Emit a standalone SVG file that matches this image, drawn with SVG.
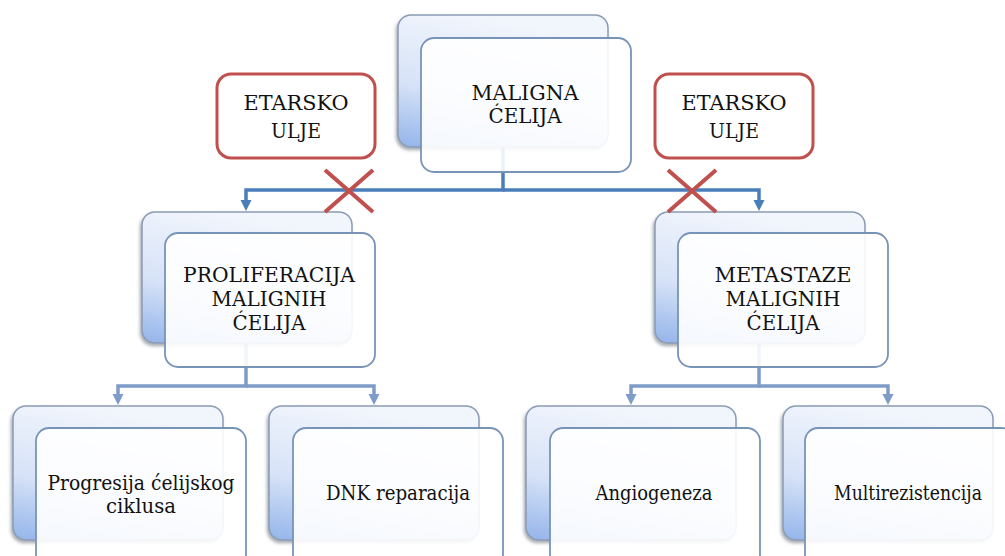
<svg xmlns="http://www.w3.org/2000/svg" width="1005" height="556" viewBox="0 0 1005 556">
<defs>
<linearGradient id="bg" x1="0.3" y1="0" x2="0" y2="1">
<stop offset="0" stop-color="#f1f5fc"/>
<stop offset="0.55" stop-color="#d6e2f7"/>
<stop offset="1" stop-color="#93b4ea"/>
</linearGradient>
<filter id="sh" x="-10%" y="-10%" width="120%" height="125%">
<feDropShadow dx="-1.5" dy="2.5" stdDeviation="1.5" flood-color="#404a5a" flood-opacity="0.45"/>
</filter>
<style>
.back{fill:url(#bg);stroke:#8b9bb4;stroke-width:1.5;filter:url(#sh)}
.front{fill:#ffffff;fill-opacity:0.9;stroke:#7893b8;stroke-width:1.8}
.red{fill:#ffffff;stroke:#c0504d;stroke-width:3}
.t{font-family:'DejaVu Serif',serif;font-size:21px;fill:#111111;text-anchor:middle}
.c1{fill:none;stroke:#4a7ebb;stroke-width:3.5}
.c2{fill:none;stroke:#7d9cc8;stroke-width:3.5}
.a1{fill:#4a7ebb}
.a2{fill:#7d9cc8}
.x{stroke:#c0504d;stroke-width:4;fill:none}
</style>
</defs>
<rect width="1005" height="556" fill="#ffffff"/>
<g id="connectors">
<path class="c1" d="M503,147 V190 H246 V202"/>
<path class="c1" d="M503,190 H759 V202"/>
<polygon class="a1" points="240.5,200 251.5,200 246,211"/>
<polygon class="a1" points="753.5,200 764.5,200 759,211"/>
<path class="c2" d="M246,343 V386 H118 V396"/>
<path class="c2" d="M246,386 H374 V396"/>
<path class="c2" d="M759,343 V386 H631 V396"/>
<path class="c2" d="M759,386 H888 V396"/>
<polygon class="a2" points="112.5,394 123.5,394 118,405"/>
<polygon class="a2" points="368.5,394 379.5,394 374,405"/>
<polygon class="a2" points="625.5,394 636.5,394 631,405"/>
<polygon class="a2" points="882.5,394 893.5,394 888,405"/>
</g>
<g id="node-maligna">
<rect class="back" x="398" y="15" width="210" height="132" rx="13"/>
<rect class="front" x="421" y="38" width="210" height="134" rx="13"/>
<text class="t" x="525" y="100" textLength="107" lengthAdjust="spacingAndGlyphs">MALIGNA</text>
<text class="t" x="525" y="123" textLength="73" lengthAdjust="spacingAndGlyphs">ĆELIJA</text>
</g>
<g id="node-etarsko-left">
<rect class="red" x="217" y="74" width="158" height="84" rx="14"/>
<text class="t" x="296" y="110" textLength="105" lengthAdjust="spacingAndGlyphs">ETARSKO</text>
<text class="t" x="296" y="138" textLength="50" lengthAdjust="spacingAndGlyphs">ULJE</text>
</g>
<g id="node-etarsko-right">
<rect class="red" x="655" y="74" width="158" height="84" rx="14"/>
<text class="t" x="734" y="110" textLength="105" lengthAdjust="spacingAndGlyphs">ETARSKO</text>
<text class="t" x="734" y="138" textLength="50" lengthAdjust="spacingAndGlyphs">ULJE</text>
</g>
<g id="node-proliferacija">
<rect class="back" x="142" y="212" width="210" height="131" rx="13"/>
<rect class="front" x="165" y="233" width="210" height="134" rx="13"/>
<text class="t" x="269" y="282" textLength="172" lengthAdjust="spacingAndGlyphs">PROLIFERACIJA</text>
<text class="t" x="269" y="306" textLength="115" lengthAdjust="spacingAndGlyphs">MALIGNIH</text>
<text class="t" x="269" y="330" textLength="73" lengthAdjust="spacingAndGlyphs">ĆELIJA</text>
</g>
<g id="node-metastaze">
<rect class="back" x="655" y="212" width="210" height="131" rx="13"/>
<rect class="front" x="678" y="233" width="210" height="134" rx="13"/>
<text class="t" x="783" y="282" textLength="137" lengthAdjust="spacingAndGlyphs">METASTAZE</text>
<text class="t" x="783" y="306" textLength="115" lengthAdjust="spacingAndGlyphs">MALIGNIH</text>
<text class="t" x="783" y="330" textLength="73" lengthAdjust="spacingAndGlyphs">ĆELIJA</text>
</g>
<g id="node-progresija">
<rect class="back" x="13" y="406" width="210" height="134" rx="13"/>
<rect class="front" x="36" y="428" width="210" height="140" rx="13"/>
<text class="t" x="141" y="490" textLength="187" lengthAdjust="spacingAndGlyphs">Progresija ćelijskog</text>
<text class="t" x="141" y="513" textLength="70" lengthAdjust="spacingAndGlyphs">ciklusa</text>
</g>
<g id="node-dnk">
<rect class="back" x="269" y="406" width="210" height="134" rx="13"/>
<rect class="front" x="293" y="428" width="210" height="140" rx="13"/>
<text class="t" x="398" y="500" textLength="144" lengthAdjust="spacingAndGlyphs">DNK reparacija</text>
</g>
<g id="node-angiogeneza">
<rect class="back" x="526" y="406" width="210" height="134" rx="13"/>
<rect class="front" x="550" y="428" width="210" height="140" rx="13"/>
<text class="t" x="654" y="500" textLength="117" lengthAdjust="spacingAndGlyphs">Angiogeneza</text>
</g>
<g id="node-multirezistencija">
<rect class="back" x="783" y="406" width="210" height="134" rx="13"/>
<rect class="front" x="805" y="428" width="210" height="140" rx="13"/>
<text class="t" x="908" y="500" textLength="148" lengthAdjust="spacingAndGlyphs">Multirezistencija</text>
</g>
<g id="crosses">
<path class="x" d="M325,170 L373,212 M373,170 L325,212"/>
<path class="x" d="M668,170 L716,212 M716,170 L668,212"/>
</g>
</svg>
